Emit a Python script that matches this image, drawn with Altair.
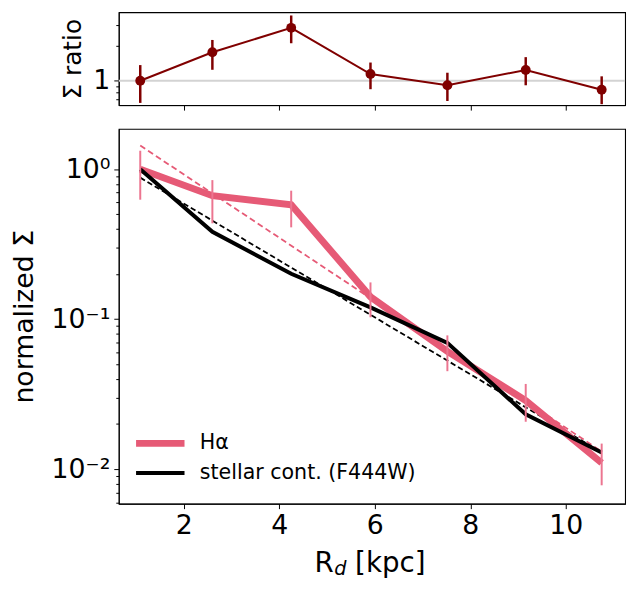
import altair as alt
import pandas as pd

# ---------------- data ----------------
R = [1.09, 2.60, 4.25, 5.91, 7.52, 9.16, 10.75]

ha = [1.0, 0.667, 0.58, 0.141, 0.061, 0.0287, 0.011]
ha_lo = [0.627, 0.436, 0.41, 0.103, 0.045, 0.0207, 0.0078]
ha_hi = [1.33, 0.847, 0.72, 0.176, 0.078, 0.037, 0.0148]

st = [1.0, 0.383, 0.201, 0.12, 0.0695, 0.0232, 0.0129]

fit_R = [1.09, 10.75]
fit_ha = [1.44, 0.0131]
fit_st = [0.88, 0.0129]

ratio = [1.0, 1.75, 2.83, 1.14, 0.914, 1.236, 0.836]
ratio_lo = [0.646, 1.24, 2.09, 0.846, 0.671, 0.914, 0.63]
ratio_hi = [1.36, 2.23, 3.61, 1.43, 1.17, 1.59, 1.09]

series_names = ["H\u03b1", "stellar cont. (F444W)"]

x_ticks = [2, 4, 6, 8, 10]
bot_y_ticks = [0.006, 0.007, 0.008, 0.009, 0.01, 0.02, 0.03, 0.04, 0.05, 0.06,
               0.07, 0.08, 0.09, 0.1, 0.2, 0.3, 0.4, 0.5, 0.6, 0.7, 0.8, 0.9, 1.0]
top_y_ticks = [0.7, 0.8, 0.9, 1.0, 2.0, 3.0]

# x-axis title pieces (R with subscript d, then unit)
xt_main, xt_sub, xt_unit = "R", "d", "[kpc]"

# ---------------- tables ----------------
prof_ha = pd.DataFrame({"R": R, "v": ha, "lo": ha_lo, "hi": ha_hi, "series": series_names[0]})
prof_st = pd.DataFrame({"R": R, "v": st, "series": series_names[1]})
fit_ha_df = pd.DataFrame({"R": fit_R, "v": fit_ha})
fit_st_df = pd.DataFrame({"R": fit_R, "v": fit_st})
ratio_df = pd.DataFrame({"R": R, "v": ratio, "lo": ratio_lo, "hi": ratio_hi})
one_df = pd.DataFrame({"v": [1.0]})

FONT = "DejaVu Sans"
PINK = "#e65a76"
PINK_ERR = "#ec7590"
MAROON = "#800000"
W = 512

is_major = "abs(log(datum.value)/LN10 - round(log(datum.value)/LN10)) < 1e-6"

xscale = alt.Scale(domain=[0.64, 11.24], nice=False, zero=False)

x_axis_bottom = alt.Axis(values=x_ticks, title=None, labelFontSize=27,
                         labelFont=FONT, tickSize=5, labelPadding=4, grid=False,
                         labelColor="black", tickColor="black", domainColor="black")
x_axis_top = alt.Axis(values=x_ticks, title=None, labels=False, tickSize=5, grid=False,
                      tickColor="black", domainColor="black")

ybot_scale = alt.Scale(type="log", domain=[0.00588, 1.86], nice=False)
ybot_axis = alt.Axis(values=bot_y_ticks, title="normalized \u03a3",
                     labelExpr="datum.value == 1 ? '10\u2070' : (abs(datum.value-0.1) < 1e-9 ? '10\u207b\u00b9' : (abs(datum.value-0.01) < 1e-9 ? '10\u207b\u00b2' : ''))",
                     tickSize={"condition": {"test": is_major, "value": 5}, "value": 3},
                     labelFontSize=27, titleFontSize=27, labelFont=FONT, titleFont=FONT,
                     labelPadding=4, titlePadding=13, grid=False, labelColor="black",
                     titleColor="black", tickColor="black", domainColor="black",
                     titleFontWeight="normal")

ytop_scale = alt.Scale(type="log", domain=[0.618, 3.85], nice=False)
ytop_axis = alt.Axis(values=top_y_ticks, title="\u03a3 ratio",
                     labelExpr="datum.value == 1 ? '1' : ''",
                     tickSize={"condition": {"test": is_major, "value": 5}, "value": 3},
                     labelFontSize=27, titleFontSize=25, labelFont=FONT, titleFont=FONT,
                     labelPadding=4, titlePadding=8, grid=False, labelColor="black",
                     titleColor="black", tickColor="black", domainColor="black",
                     titleFontWeight="normal")

color_scale = alt.Scale(domain=series_names, range=[PINK, "black"])
sw_scale = alt.Scale(domain=series_names, range=[7, 4])
legend = alt.Legend(title=None, orient="none", legendX=12, legendY=301,
                    symbolType="stroke", clipHeight=30,
                    symbolSize=2400, labelFontSize=20.8, labelFont=FONT,
                    labelColor="black", labelOffset=12, rowPadding=0,
                    padding=2, labelLimit=400)

# ---------------- bottom panel ----------------
base_x = alt.X("R:Q", scale=xscale, axis=x_axis_bottom)

fit_ha_line = alt.Chart(fit_ha_df).mark_line(color=PINK, strokeWidth=1.8, strokeDash=[6, 3.5]).encode(
    x=base_x, y=alt.Y("v:Q", scale=ybot_scale, axis=ybot_axis))
fit_st_line = alt.Chart(fit_st_df).mark_line(color="black", strokeWidth=1.8, strokeDash=[5.5, 3]).encode(
    x="R:Q", y="v:Q")
ha_line = alt.Chart(prof_ha).mark_line().encode(
    x="R:Q", y="v:Q",
    color=alt.Color("series:O", scale=color_scale, legend=legend),
    strokeWidth=alt.StrokeWidth("series:O", scale=sw_scale, legend=legend))
st_line = alt.Chart(prof_st).mark_line().encode(
    x="R:Q", y="v:Q",
    color=alt.Color("series:O", scale=color_scale, legend=legend),
    strokeWidth=alt.StrokeWidth("series:O", scale=sw_scale, legend=legend))
ha_err = alt.Chart(prof_ha).mark_rule(color=PINK_ERR, strokeWidth=2).encode(
    x="R:Q", y="lo:Q", y2="hi:Q")

title_src = alt.Chart(pd.DataFrame({"a": [0]}))
t_main = title_src.mark_text(font=FONT, fontSize=28, align="left", baseline="alphabetic",
                             color="black", text=xt_main).encode(
    x=alt.value(198), y=alt.value(447.6))
t_sub = title_src.mark_text(font=FONT, fontSize=19.5, fontStyle="italic", align="left",
                            baseline="alphabetic", color="black", text=xt_sub).encode(
    x=alt.value(218), y=alt.value(451.6))
t_unit = title_src.mark_text(font=FONT, fontSize=28, align="left", baseline="alphabetic",
                             color="black", text=xt_unit).encode(
    x=alt.value(239), y=alt.value(447.6))

bottom = alt.layer(fit_ha_line, fit_st_line, ha_line, st_line, ha_err,
                   t_main, t_sub, t_unit).properties(width=W, height=379)

# ---------------- top panel ----------------
top_x = alt.X("R:Q", scale=xscale, axis=x_axis_top)
one_line = alt.Chart(one_df).mark_rule(color="#d3d3d3", strokeWidth=2).encode(
    y=alt.Y("v:Q", scale=ytop_scale, axis=ytop_axis))
r_err = alt.Chart(ratio_df).mark_rule(color=MAROON, strokeWidth=2.5).encode(
    x=top_x, y="lo:Q", y2="hi:Q")
r_line = alt.Chart(ratio_df).mark_line(color=MAROON, strokeWidth=2).encode(x="R:Q", y="v:Q")
r_pts = alt.Chart(ratio_df).mark_point(filled=True, color=MAROON, size=100, opacity=1).encode(
    x="R:Q", y="v:Q")
top = alt.layer(one_line, r_err, r_line, r_pts).properties(width=W, height=94)

chart = alt.vconcat(top, bottom, spacing=16).resolve_scale(
    color="independent", strokeWidth="independent"
).resolve_legend(color="independent", strokeWidth="independent").properties(
    padding={"left": 2, "top": 0, "right": 5, "bottom": 5}
).configure(background="white").configure_view(stroke="black", strokeWidth=1.1)

chart.save("out.html", embed_options={"renderer": "svg", "actions": False})
